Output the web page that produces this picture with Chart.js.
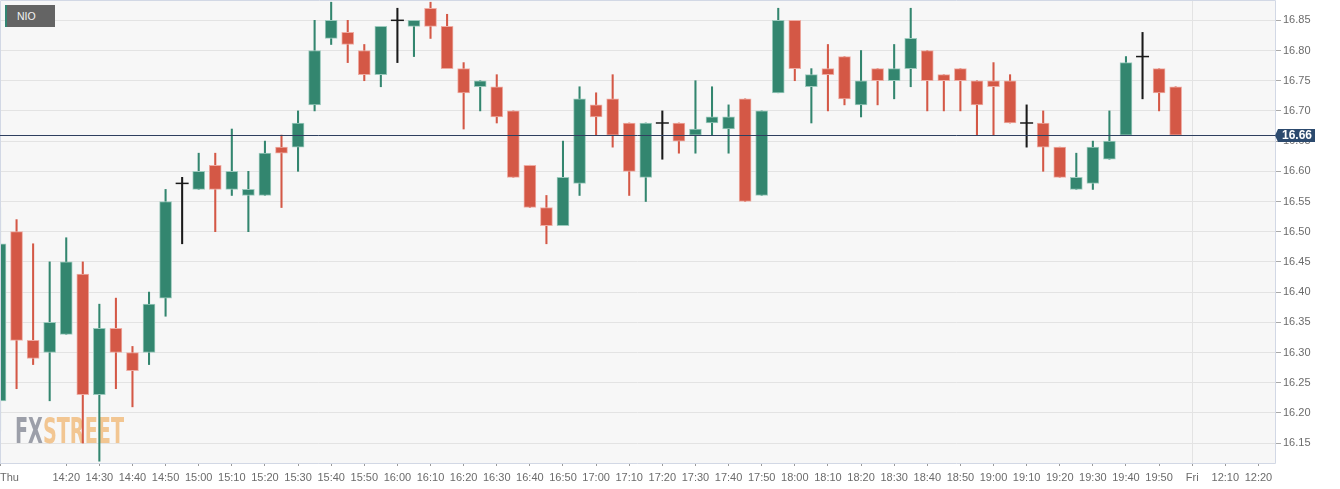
<!DOCTYPE html>
<html>
<head>
<meta charset="utf-8">
<script src="https://cdn.jsdelivr.net/npm/chart.js@4/dist/chart.umd.min.js"></script>
<style>
  html, body { margin: 0; padding: 0; background: #ffffff; }
  #wrap { position: relative; width: 1340px; height: 489px; }
  #legend { position: absolute; left: 5px; top: 5px; width: 50px; height: 22px; background: #646464;
    border-left: 2px solid #338673; color: #f2f2f2; font: 10.5px "Liberation Sans", Arial, sans-serif;
    line-height: 22px; padding-left: 10px; box-sizing: border-box; }
</style>
</head>
<body>
<div id="wrap">
  <canvas id="c" width="1340" height="489"></canvas>
  <div id="legend">NIO</div>
</div>
<script>
// ---- data (5-minute candles) ----
const times = [
  "14:00","14:05","14:10","14:15","14:20","14:25","14:30","14:35","14:40","14:45","14:50","14:55",
  "15:00","15:05","15:10","15:15","15:20","15:25","15:30","15:35","15:40","15:45","15:50","15:55",
  "16:00","16:05","16:10","16:15","16:20","16:25","16:30","16:35","16:40","16:45","16:50","16:55",
  "17:00","17:05","17:10","17:15","17:20","17:25","17:30","17:35","17:40","17:45","17:50","17:55",
  "18:00","18:05","18:10","18:15","18:20","18:25","18:30","18:35","18:40","18:45","18:50","18:55",
  "19:00","19:05","19:10","19:15","19:20","19:25","19:30","19:35","19:40","19:45","19:50","19:55",
  "12:00","12:05","12:10","12:15","12:20","12:25"
];
const openV = [
  16.22,16.50,16.32,16.30,16.33,16.43,16.23,16.34,16.30,16.30,16.39,16.58,
  16.57,16.61,16.57,16.56,16.56,16.64,16.64,16.71,16.82,16.83,16.80,16.76,
  16.85,16.84,16.87,16.84,16.77,16.74,16.74,16.70,16.61,16.54,16.51,16.58,
  16.71,16.72,16.68,16.59,16.68,16.68,16.66,16.68,16.67,16.72,16.56,16.73,
  16.85,16.74,16.77,16.79,16.71,16.77,16.75,16.77,16.80,16.76,16.77,16.75,
  16.75,16.75,16.68,16.68,16.64,16.57,16.58,16.62,16.66,16.79,16.77,16.74
];
const highV = [
  16.54,16.52,16.48,16.45,16.49,16.45,16.38,16.39,16.31,16.40,16.57,16.59,
  16.63,16.63,16.67,16.60,16.65,16.66,16.70,16.85,16.88,16.85,16.81,16.84,
  16.87,16.85,16.88,16.86,16.78,16.75,16.76,16.70,16.61,16.56,16.65,16.74,
  16.73,16.76,16.68,16.68,16.70,16.68,16.75,16.74,16.71,16.72,16.70,16.87,
  16.85,16.77,16.81,16.79,16.80,16.77,16.81,16.87,16.80,16.76,16.77,16.75,
  16.78,16.76,16.71,16.70,16.64,16.63,16.65,16.70,16.79,16.83,16.77,16.74
];
const lowV = [
  16.17,16.24,16.28,16.22,16.33,16.15,16.12,16.24,16.21,16.28,16.36,16.48,
  16.57,16.50,16.56,16.50,16.56,16.54,16.60,16.70,16.81,16.78,16.75,16.74,
  16.78,16.79,16.82,16.77,16.67,16.70,16.68,16.59,16.54,16.48,16.51,16.56,
  16.66,16.64,16.56,16.55,16.62,16.63,16.63,16.66,16.63,16.55,16.56,16.73,
  16.75,16.68,16.70,16.71,16.69,16.71,16.72,16.74,16.70,16.70,16.70,16.66,
  16.66,16.68,16.64,16.60,16.59,16.57,16.57,16.62,16.66,16.72,16.70,16.66
];
const closeV = [
  16.48,16.32,16.29,16.35,16.45,16.23,16.34,16.30,16.27,16.38,16.55,16.58,
  16.60,16.57,16.60,16.57,16.63,16.63,16.68,16.80,16.85,16.81,16.76,16.84,
  16.85,16.85,16.84,16.77,16.73,16.75,16.69,16.59,16.54,16.51,16.59,16.72,
  16.69,16.66,16.60,16.68,16.68,16.65,16.67,16.69,16.69,16.55,16.70,16.85,
  16.77,16.76,16.76,16.72,16.75,16.75,16.77,16.82,16.75,16.75,16.75,16.71,
  16.74,16.68,16.68,16.64,16.59,16.59,16.64,16.65,16.78,16.79,16.73,16.66
];
const tickTimes  = ["14:00","14:20","14:30","14:40","14:50","15:00","15:10","15:20","15:30","15:40","15:50",
  "16:00","16:10","16:20","16:30","16:40","16:50","17:00","17:10","17:20","17:30","17:40","17:50",
  "18:00","18:10","18:20","18:30","18:40","18:50","19:00","19:10","19:20","19:30","19:40","19:50",
  "12:00","12:10","12:20"];
const tickLabels = ["Thu","14:20","14:30","14:40","14:50","15:00","15:10","15:20","15:30","15:40","15:50",
  "16:00","16:10","16:20","16:30","16:40","16:50","17:00","17:10","17:20","17:30","17:40","17:50",
  "18:00","18:10","18:20","18:30","18:40","18:50","19:00","19:10","19:20","19:30","19:40","19:50",
  "Fri","12:10","12:20"];
const yTicks = [16.15,16.20,16.25,16.30,16.35,16.40,16.45,16.50,16.55,16.60,16.65,16.70,16.75,16.80,16.85];
const yMin = 16.117, yMax = 16.882;
const seriesName = "NIO";

// ---- styles ----
const UP = '#33866f', UP_B = '#9ccabd';
const DN = '#d45846', DN_B = '#eeaca3';
const DOJI = '#1a1a1a';

function kind(i) {
  if (openV[i] === closeV[i]) return 0;
  return closeV[i] > openV[i] ? 1 : -1;
}
const n = openV.length;
const bodyData = [], wickData = [], dojiData = [];
for (let i = 0; i < times.length; i++) {
  if (i < n) {
    bodyData.push(kind(i) === 0 ? null : [openV[i], closeV[i]]);
    wickData.push([lowV[i], highV[i]]);
    dojiData.push(kind(i) === 0 ? closeV[i] : null);
  } else {
    bodyData.push(null); wickData.push(null); dojiData.push(null);
  }
}
const lastClose = closeV[n - 1];

const bgPlugin = {
  id: 'bg',
  beforeDraw(chart) {
    const { ctx, chartArea: a } = chart;
    ctx.save();
    ctx.fillStyle = '#ffffff';
    ctx.fillRect(0, 0, chart.width, chart.height);
    ctx.fillStyle = '#f7f7f7';
    ctx.fillRect(a.left, a.top, a.right - a.left, a.bottom - a.top);
    ctx.restore();
  },
  beforeDatasetsDraw(chart) {
    const { ctx } = chart;
    ctx.save();
    ctx.font = 'bold 36px "DejaVu Sans Condensed", "DejaVu Sans", sans-serif';
    ctx.textBaseline = 'alphabetic';
    const wFX = ctx.measureText('FX').width;
    const wAll = ctx.measureText('FXSTREET').width;
    const sx = 109 / wAll;
    ctx.translate(15, 443);
    ctx.scale(sx, 1);
    ctx.fillStyle = 'rgba(140,143,155,0.85)';
    ctx.fillText('FX', 0, 0);
    ctx.fillStyle = 'rgba(240,185,120,0.8)';
    ctx.fillText('STREET', wFX, 0);
    ctx.restore();
  },
  afterDatasetsDraw(chart) {
    const { ctx, chartArea: a, scales } = chart;
    ctx.save();
    ctx.strokeStyle = '#d2d8e5';
    ctx.lineWidth = 1;
    ctx.beginPath();
    ctx.moveTo(a.left + 0.5, a.bottom); ctx.lineTo(a.left + 0.5, a.top - 0.5);
    ctx.lineTo(a.right + 0.5, a.top - 0.5); ctx.lineTo(a.right + 0.5, a.bottom + 0.5);
    ctx.lineTo(a.left, a.bottom + 0.5);
    ctx.stroke();
    const y = Math.round(scales.y.getPixelForValue(lastClose)) + 0.5;
    ctx.strokeStyle = '#2e3f5f';
    ctx.beginPath(); ctx.moveTo(a.left, y); ctx.lineTo(a.right, y); ctx.stroke();
    ctx.restore();
  },
  afterDraw(chart) {
    const { ctx, chartArea: a, scales } = chart;
    const y = Math.round(scales.y.getPixelForValue(lastClose)) + 0.5;
    ctx.save();
    const x0 = a.right + 3, x1 = a.right + 40, h = 13;
    ctx.fillStyle = '#2c4a6e';
    ctx.beginPath();
    ctx.moveTo(a.right, y);
    ctx.lineTo(x0, y - h / 2);
    ctx.lineTo(x1, y - h / 2);
    ctx.lineTo(x1, y + h / 2);
    ctx.lineTo(x0, y + h / 2);
    ctx.closePath();
    ctx.fill();
    ctx.fillStyle = '#ffffff';
    ctx.font = 'bold 12px "Liberation Sans", Arial, sans-serif';
    ctx.textAlign = 'center';
    ctx.textBaseline = 'middle';
    ctx.fillText(lastClose.toFixed(2), (x0 + x1) / 2 + 0.5, y + 0.5);
    ctx.restore();
  }
};

new Chart(document.getElementById('c'), {
  type: 'bar',
  data: {
    labels: times,
    datasets: [
      {
        label: seriesName + ' wick',
        data: wickData,
        grouped: false,
        order: 3,
        barThickness: 1.4,
        backgroundColor: (c) => { const k = kind(c.dataIndex); return k === 0 ? DOJI : (k > 0 ? UP : DN); },
        borderWidth: 0
      },
      {
        label: seriesName,
        data: bodyData,
        grouped: false,
        order: 2,
        barThickness: 12,
        borderSkipped: false,
        borderWidth: 1,
        backgroundColor: (c) => kind(c.dataIndex) > 0 ? UP : DN,
        borderColor: (c) => kind(c.dataIndex) > 0 ? UP_B : DN_B
      },
      {
        type: 'line',
        label: seriesName + ' doji',
        data: dojiData,
        order: 1,
        showLine: false,
        pointStyle: 'line',
        pointRadius: 6.5,
        pointHoverRadius: 6.5,
        pointBorderWidth: 1.5,
        borderColor: DOJI,
        pointBorderColor: DOJI,
        backgroundColor: DOJI
      }
    ]
  },
  options: {
    responsive: false,
    animation: false,
    events: [],
    layout: { autoPadding: false, padding: { top: 1, left: 0, right: 0, bottom: 0 } },
    plugins: { legend: { display: false }, tooltip: { enabled: false } },
    scales: {
      x: {
        type: 'category',
        offset: false,
        border: { display: false },
        grid: {
          offset: false,
          drawOnChartArea: true,
          color: (c) => (c.tick && c.tick.label === 'Fri') ? '#e3e3e3' : 'rgba(0,0,0,0)',
          tickColor: (c) => (c.tick && c.tick.label) ? '#9a9a9a' : 'rgba(0,0,0,0)',
          tickLength: 3
        },
        ticks: {
          autoSkip: false,
          maxRotation: 0,
          minRotation: 0,
          align: 'inner',
          padding: 5,
          color: '#6b6b6b',
          font: { family: '"Liberation Sans", Arial, sans-serif', size: 11 },
          callback: function (val, idx) {
            const k = tickTimes.indexOf(times[idx]);
            return k >= 0 ? tickLabels[k] : '';
          }
        },
        afterFit: (s) => { s.height = 26; s.paddingLeft = 0; s.paddingRight = 0; s.paddingTop = 0; s.paddingBottom = 0; }
      },
      y: {
        type: 'linear',
        position: 'right',
        min: yMin,
        max: yMax,
        border: { display: false },
        grid: { color: '#e3e3e3', tickColor: '#a8a8a8', tickLength: 6 },
        ticks: {
          padding: 2,
          color: '#6b6b6b',
          font: { family: '"Liberation Sans", Arial, sans-serif', size: 11 },
          callback: (v) => Number(v).toFixed(2)
        },
        afterBuildTicks: (s) => { s.ticks = yTicks.map(v => ({ value: v })); },
        afterFit: (s) => { s.width = 65; s.paddingLeft = 0; s.paddingRight = 0; s.paddingTop = 0; s.paddingBottom = 0; }
      }
    }
  },
  plugins: [bgPlugin]
});
</script>
</body>
</html>
